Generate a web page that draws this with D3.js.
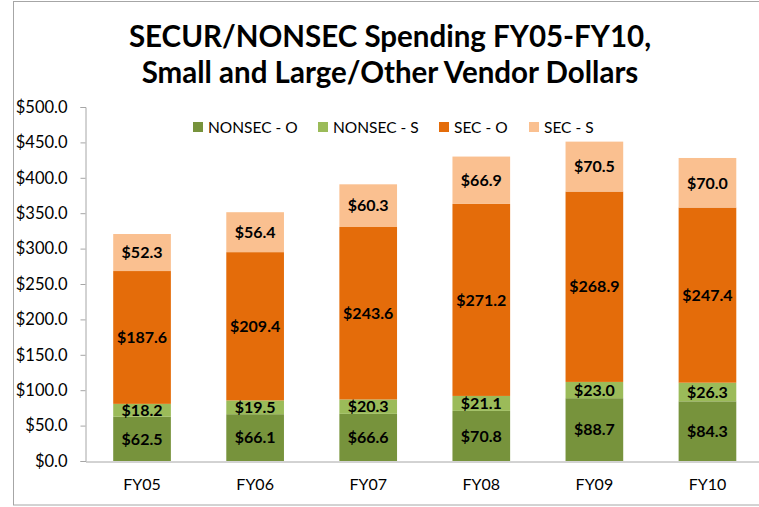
<!DOCTYPE html>
<html>
<head>
<meta charset="utf-8">
<script src="https://cdn.jsdelivr.net/npm/d3@7"></script>
<style>
  body { margin: 0; background: #fff; }
  svg { display: block; font-family: Lato, "Open Sans", sans-serif; }
</style>
</head>
<body>
<svg id="svg" width="759" height="507"></svg>
<script>
// values, millions of dollars
var years = ["FY05", "FY06", "FY07", "FY08", "FY09", "FY10"];
var nonsecO = [62.5, 66.1, 66.6, 70.8, 88.7, 84.3];
var nonsecS = [18.2, 19.5, 20.3, 21.1, 23.0, 26.3];
var secO = [187.6, 209.4, 243.6, 271.2, 268.9, 247.4];
var secS = [52.3, 56.4, 60.3, 66.9, 70.5, 70.0];
var seriesNames = ["NONSEC - O", "NONSEC - S", "SEC - O", "SEC - S"];
var seriesColors = ["#77933c", "#9bbb59", "#e46c0a", "#fac090"];
var yTicks = [0, 50, 100, 150, 200, 250, 300, 350, 400, 450, 500];

var svg = d3.select('#svg');

// frame
svg.append('rect')
	.attr('x', 13.5).attr('y', 1.5)
	.attr('width', 760).attr('height', 503.5)
	.attr('fill', 'none')
	.attr('stroke', '#a6a6a6')
	.attr('stroke-width', 1);

// title
var title = svg.append('text')
	.attr('x', 390)
	.attr('text-anchor', 'middle')
	.style('font-weight', 'bold')
	.style('font-size', '29.5px')
	.style('fill', '#000');
title.append('tspan').attr('x', 390).attr('y', 47).text('SECUR/NONSEC Spending FY05-FY10,');
title.append('tspan').attr('x', 390).attr('y', 83).text('Small and Large/Other Vendor Dollars');

var rows = years.map(function(y, i){
	return { year: y, s0: nonsecO[i], s1: nonsecS[i], s2: secO[i], s3: secS[i] };
});

var stack = d3.stack().keys(['s0', 's1', 's2', 's3']);
var layers = stack(rows);

var x = d3.scaleBand()
	.domain(years)
	.range([85.5, 764])
	.paddingInner(0.49)
	.paddingOuter(0.245);

var y = d3.scaleLinear()
	.domain([0, 500])
	.range([461, 107]);

// y axis
var yAxis = svg.append('g')
	.attr('transform', 'translate(85.5,0)')
	.call(d3.axisLeft(y).tickValues(yTicks).tickSize(5).tickPadding(13)
		.tickFormat(function(d){ return '$' + d.toFixed(1); }));
yAxis.selectAll('path, line').attr('stroke', '#a6a6a6');
yAxis.selectAll('text')
	.style('font-size', '16.5px')
	.style('font-family', 'Lato, sans-serif')
	.attr('fill', '#000');

// bars
var groups = svg.selectAll('g.layer')
	.data(layers)
	.enter()
	.append('g')
	.attr('class', 'layer')
	.attr('fill', function(d, i){ return seriesColors[i]; });

groups.selectAll('rect')
	.data(function(d){ return d; })
	.enter()
	.append('rect')
	.attr('x', function(d){ return x(d.data.year); })
	.attr('width', x.bandwidth())
	.attr('y', function(d){ return y(d[1]); })
	.attr('height', function(d){ return y(d[0]) - y(d[1]); });

// value labels
groups.selectAll('text')
	.data(function(d){ return d; })
	.enter()
	.append('text')
	.attr('x', function(d){ return x(d.data.year) + x.bandwidth() / 2; })
	.attr('y', function(d){ return (y(d[0]) + y(d[1])) / 2; })
	.attr('dy', '0.36em')
	.attr('text-anchor', 'middle')
	.style('font-size', '16px')
	.style('font-weight', 'bold')
	.style('fill', '#000')
	.text(function(d){ return '$' + (d[1] - d[0]).toFixed(1); });

// x axis
var xAxis = svg.append('g')
	.attr('transform', 'translate(0,461.5)')
	.call(d3.axisBottom(x).tickSize(0).tickPadding(17));
xAxis.select('path').attr('stroke', '#a6a6a6');
xAxis.selectAll('text')
	.style('font-size', '16px')
	.style('font-family', 'Lato, sans-serif')
	.attr('fill', '#000');

// legend
var legendX = [193, 318, 439, 529];
var legend = svg.selectAll('g.legend')
	.data(seriesNames)
	.enter()
	.append('g')
	.attr('class', 'legend')
	.attr('transform', function(d, i){ return 'translate(' + legendX[i] + ',127)'; });
legend.append('rect')
	.attr('x', 0).attr('y', -5)
	.attr('width', 10).attr('height', 10)
	.attr('fill', function(d, i){ return seriesColors[i]; });
legend.append('text')
	.attr('x', 15)
	.attr('dy', '0.36em')
	.style('font-size', '15.5px')
	.style('fill', '#000')
	.text(function(d){ return d; });
</script>
</body>
</html>
